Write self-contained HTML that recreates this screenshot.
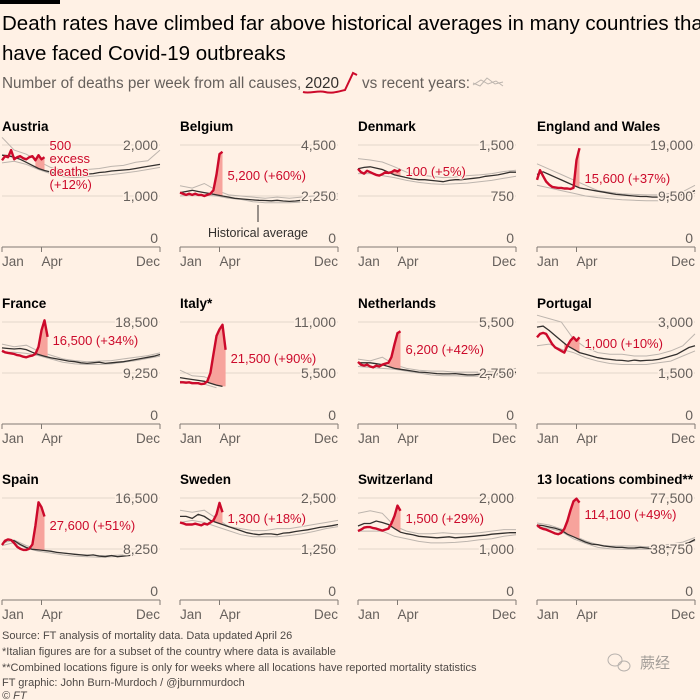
<!DOCTYPE html>
<html><head><meta charset="utf-8">
<style>
html,body{margin:0;padding:0;background:#fff1e5;}
body{width:700px;height:700px;overflow:hidden;position:relative;font-family:"Liberation Sans","Noto Sans CJK SC",sans-serif;}
svg{position:absolute;left:0;top:0;}
text{font-family:"Liberation Sans","Noto Sans CJK SC",sans-serif;}
</style></head>
<body>
<svg id="chart" width="700" height="700" viewBox="0 0 700 700">
  <rect x="0" y="0" width="60" height="4" fill="#000"/>
  <text x="2" y="30" font-size="20.5" fill="#000">Death rates have climbed far above historical averages in many countries that</text>
  <text x="2" y="60" font-size="20.5" fill="#000">have faced Covid-19 outbreaks</text>
  <text x="2" y="88" font-size="15.3" fill="#66605c">Number of deaths per week from all causes,</text>
  <text x="305" y="88" font-size="15.3" fill="#33302e">2020</text>
  <text x="362" y="88" font-size="15.3" fill="#66605c">vs recent years:</text>
  <g>
    <path d="M303,92 C310,94 318,90 325,92 C332,94 340,91 345,90 L353,73 L357,75" stroke="#cc0a2b" stroke-width="2" fill="none"/>
    <path d="M473,85 L481,80 L488,84 L496,81 L503,86 M473,83 L480,86 L487,78 L495,84 L503,82" stroke="#bdb5ae" stroke-width="1" fill="none"/>
  </g>
  <g id="panels"></g>
  <g>
    <line x1="258" y1="205" x2="258" y2="222" stroke="#33302e" stroke-width="1"/>
    <text x="258" y="237" font-size="12.5" fill="#33302e" text-anchor="middle">Historical average</text>
  </g>
  <g font-size="11" fill="#4d4845">
    <text x="2" y="639">Source: FT analysis of mortality data. Data updated April 26</text>
    <text x="2" y="655">*Italian figures are for a subset of the country where data is available</text>
    <text x="2" y="671">**Combined locations figure is only for weeks where all locations have reported mortality statistics</text>
    <text x="2" y="686">FT graphic: John Burn-Murdoch / @jburnmurdoch</text>
    <text x="2" y="699" font-style="italic">© FT</text>
  </g>
  <g opacity="0.6">
    <ellipse cx="615" cy="660" rx="7" ry="6" fill="none" stroke="#888" stroke-width="1"/>
    <ellipse cx="624" cy="666" rx="6" ry="5" fill="none" stroke="#888" stroke-width="1"/>
    <text x="640" y="668" font-size="15" fill="#666">蕨经</text>
  </g>
</svg>
<script>
const panelNames = ["Austria","Belgium","Denmark","England and Wales","France","Italy*","Netherlands","Portugal","Spain","Sweden","Switzerland","13 locations combined**"];
const axisMax = [2000,4500,1500,19000,18500,11000,5500,3000,16500,2500,2000,77500];
const tickLabels = [["2,000","1,000","0"],["4,500","2,250","0"],["1,500","750","0"],["19,000","9,500","0"],["18,500","9,250","0"],["11,000","5,500","0"],["5,500","2,750","0"],["3,000","1,500","0"],["16,500","8,250","0"],["2,500","1,250","0"],["2,000","1,000","0"],["77,500","38,750","0"]];
const excessLabels = ["500|excess|deaths|(+12%)","5,200 (+60%)","100 (+5%)","15,600 (+37%)","16,500 (+34%)","21,500 (+90%)","6,200 (+42%)","1,000 (+10%)","27,600 (+51%)","1,300 (+18%)","1,500 (+29%)","114,100 (+49%)"];
const monthLabels = ["Jan","Apr","Dec"];
const monthWeeks = [0,13,52];
const avgAustria = [1800,1790,1760,1720,1660,1600,1540,1500,1470,1440,1430,1410,1400,1420,1430,1440,1460,1470,1490,1500,1510,1520,1540,1560,1580,1600,1620];
const avgBelgium = [2400,2450,2500,2450,2400,2350,2300,2250,2200,2150,2120,2100,2080,2060,2050,2040,2060,2030,2010,2030,2060];
const avgDenmark = [1150,1170,1180,1160,1140,1100,1060,1040,1020,1000,990,990,980,970,960,980,990,990,1000,1010,1020,1040,1050,1060,1080,1100,1100];
const avgEngland = [13500,14000,13500,13000,12500,12000,11500,11000,10800,10600,10400,10200,10000,9800,9700,9600,9500,9400,9400,9300,9300,9200,9400,9600,9800,10100,10500];
const avgFrance = [13800,13700,13600,13700,13500,13000,12600,12300,12000,11800,11600,11400,11300,11100,11000,11100,11200,11000,11100,11200,11300,11500,11700,11900,12100,12300,12600];
const avgItaly = [5000,4900,4800,4700,4600,4400,4200,4050];
const avgNetherlands = [3300,3300,3300,3250,3200,3100,3000,2950,2900,2850,2800,2780,2750,2720,2700,2700,2720,2680,2650,2650,2680,2650,2650,2700,2700,2750,2800];
const avgPortugal = [2850,2880,2750,2600,2450,2300,2200,2100,2050,2000,1950,1920,1900,1880,1870,1850,1880,1860,1870,1880,1900,1950,2000,2050,2150,2250,2300];
const avgSpain = [9000,9800,9600,9000,8500,8200,8100,8000,7900,7700,7600,7500,7400,7300,7200,7300,7100,7000,7200,7000,7100,7200,7300];
const avgSweden = [2050,2050,2000,2100,2050,1950,1900,1850,1800,1750,1700,1650,1620,1600,1620,1620,1600,1640,1650,1680,1700,1720,1750,1780,1800,1820,1850];
const avgSwitzerland = [1450,1500,1500,1550,1520,1480,1400,1330,1300,1280,1250,1240,1230,1220,1230,1240,1220,1230,1240,1250,1260,1270,1290,1300,1310,1320,1320];
const avgCombined = [57000,56500,55500,54500,53000,50000,48000,46000,44000,42500,42000,41000,40500,40000,40000,39500,39500,40000,39500,39000,39500,40000,40500,41500,42500,43500,46000];
const hiAustria = [2150,1900,1820,1680,1560,1500,1480,1520,1540,1580,1600,1660,1690,1900];
const loAustria = [1650,1680,1620,1520,1440,1380,1360,1380,1400,1420,1450,1480,1520,1560];
const hiBelgium = [2700,2600,2800,2500,2300,2250,2200,2150,2200,2150,2200,2250,2300,2350];
const loBelgium = [2250,2300,2300,2250,2150,2100,2000,1950,1950,1950,1980,2000,2050,2100];
const hiDenmark = [1300,1280,1250,1180,1100,1060,1040,1020,1030,1050,1060,1080,1110,1130];
const loDenmark = [1080,1080,1050,1020,980,950,930,920,930,940,960,980,1010,1040];
const hiEngland = [15500,14500,13500,12500,11500,10500,10200,9900,9800,9700,9700,10000,10300,11500];
const loEngland = [11500,11000,10500,10000,9500,9200,9000,8800,8700,8600,8600,8800,9200,10000];
const hiFrance = [14500,14000,14300,13200,12500,11800,11500,11300,11400,11500,11800,12100,12400,12900];
const loFrance = [13000,13000,12800,12400,11800,11200,10900,10800,10800,10900,11200,11500,11900,12300];
const hiItaly = [5800,5200,5100,4500];
const loItaly = [4600,4500,4300,3900];
const hiNetherlands = [3500,3400,3600,3200,3000,2900,2850,2850,2800,2800,2800,2850,2900,3000];
const loNetherlands = [3100,3050,3000,2950,2850,2750,2650,2600,2600,2580,2580,2600,2650,2700];
const hiPortugal = [3200,3100,3000,2500,2250,2100,2050,2050,2000,2000,2050,2150,2300,2650];
const loPortugal = [2300,2350,2200,2100,1950,1850,1780,1750,1750,1750,1800,1850,2000,2150];
const hiSpain = [9200,9700,8800,8200,7900,7600,7400,7300,7200,7200,7300];
const loSpain = [8800,9300,8400,7900,7600,7300,7100,7000,6900,7000,7100];
const hiSweden = [2200,2150,2200,2000,1800,1750,1700,1700,1750,1750,1800,1850,1900,1950];
const loSweden = [1900,1950,1900,1800,1700,1600,1550,1550,1550,1580,1620,1680,1750,1800];
const hiSwitzerland = [1700,1750,1700,1450,1350,1300,1300,1320,1300,1300,1320,1350,1380,1380];
const loSwitzerland = [1350,1350,1350,1250,1200,1150,1120,1120,1130,1150,1180,1200,1250,1280];
const hiCombined = [58500,57000,54000,49000,45000,42000,41000,41000,41000,40500,41000,42500,44000,47500];
const loCombined = [55500,54500,52000,46500,43000,40000,39000,38500,38500,38500,39000,40500,42000,45000];
const y2020Austria = [1700,1780,1760,1900,1720,1760,1780,1740,1720,1760,1780,1700,1800,1720,1760];
const y2020Belgium = [2400,2350,2300,2350,2300,2350,2300,2300,2250,2300,2350,2500,3200,4100,4200];
const y2020Denmark = [1150,1100,1080,1120,1100,1080,1060,1050,1070,1100,1090,1100,1130,1110,1140];
const y2020England = [12500,14300,13200,12200,11600,11200,11100,11000,11000,10900,10900,10800,11000,16200,18400];
const y2020France = [13300,13000,12900,12800,12700,12500,12400,12200,12100,12300,12400,12700,14000,17000,18800,15800];
const y2020Italy = [4500,4500,4450,4500,4400,4400,4400,4300,4350,4600,5500,7500,9500,10200,10700,8000];
const y2020Netherlands = [3350,3200,3150,3200,3100,3050,3150,3100,3200,3250,3300,3600,4300,4900,5000];
const y2020Portugal = [2550,2650,2680,2650,2500,2350,2250,2200,2150,2100,2300,2450,2550,2450,2550];
const y2020Spain = [8900,9600,9800,9700,9200,8600,8300,8100,8100,8300,9000,12000,15800,15000,13500];
const y2020Sweden = [1900,1880,1850,1850,1850,1870,1850,1830,1870,1850,1900,1950,2100,2380,2150];
const y2020Switzerland = [1350,1380,1420,1430,1430,1410,1400,1380,1360,1380,1400,1500,1650,1850,1750];
const y2020Combined = [57000,55000,54000,53500,52500,51500,50500,50000,51000,54000,60000,68000,75000,77000,74000];
const excessFromWeek = [11,11,11,12,11,9,10,9,10,11,10,9];

const avgData = [avgAustria,avgBelgium,avgDenmark,avgEngland,avgFrance,avgItaly,avgNetherlands,avgPortugal,avgSpain,avgSweden,avgSwitzerland,avgCombined];
const hiData = [hiAustria,hiBelgium,hiDenmark,hiEngland,hiFrance,hiItaly,hiNetherlands,hiPortugal,hiSpain,hiSweden,hiSwitzerland,hiCombined];
const loData = [loAustria,loBelgium,loDenmark,loEngland,loFrance,loItaly,loNetherlands,loPortugal,loSpain,loSweden,loSwitzerland,loCombined];
const data2020 = [y2020Austria,y2020Belgium,y2020Denmark,y2020England,y2020France,y2020Italy,y2020Netherlands,y2020Portugal,y2020Spain,y2020Sweden,y2020Switzerland,y2020Combined];

const NS = "http://www.w3.org/2000/svg";
const colX = [2,180,358,537];
const rowZero = [247,424,600];
const PW = 158, PH = 102;
const annY = [0,180,176,183,345,363,354,348,530,523,523,519];
function mk(tag, attrs, parent){ const e=document.createElementNS(NS,tag); for(const k in attrs) e.setAttribute(k,attrs[k]); parent.appendChild(e); return e; }
const root = document.getElementById("panels");

panelNames.forEach((name,i)=>{
  const x0 = colX[i%4], zy = rowZero[Math.floor(i/4)];
  const max = axisMax[i];
  const xs = w => x0 + w/52*PW;
  const ys = v => zy - v/max*PH;
  const g = mk("g",{},root);
  
  
  const t = mk("text",{x:x0,y:zy-116,"font-size":13.5,"font-weight":"bold",fill:"#000"},g);
  t.textContent = name;
  
  
  [max, max/2].forEach(v=>{
    const l = mk("line",{x1:x0,x2:x0+PW,y1:ys(v),y2:ys(v),stroke:"#e3d6cb","stroke-width":1},g);
    
    
  });
  const ax = mk("path",{d:`M${x0},${zy} H${x0+PW} M${x0},${zy} v5 M${xs(13)},${zy} v5 M${x0+PW},${zy} v5`,stroke:"#807973","stroke-width":1,fill:"none"},g);
  
  
  monthLabels.forEach((m,k)=>{
    const anchor = k===2 ? "end" : "start";
    const tx = mk("text",{x:xs(monthWeeks[k]),y:zy+19,"font-size":13.5,fill:"#66605c","text-anchor":anchor},g);
    tx.textContent = m;
    
    
  });
  [hiData[i], loData[i]].forEach(arr=>{
    const p = mk("path",{d:arr.map((v,k)=>(k?"L":"M")+xs(k*4).toFixed(1)+","+ys(v).toFixed(1)).join(""),stroke:"#bdb5ae","stroke-width":1,fill:"none"},g);
    
    
  });
  const avg = avgData[i];
  const avgAt = w => { const f=Math.min(w/2,avg.length-1), a=Math.floor(f), b=Math.min(a+1,avg.length-1); return avg[a]+(avg[b]-avg[a])*(f-a); };
  const d20 = data2020[i];
  const s = excessFromWeek[i];
  let sp = "";
  for(let w=s; w<d20.length; w++) sp += (w===s?"M":"L")+xs(w).toFixed(1)+","+ys(d20[w]).toFixed(1);
  for(let w=d20.length-1; w>=s; w--) sp += "L"+xs(w).toFixed(1)+","+ys(avgAt(w)).toFixed(1);
  const sh = mk("path",{d:sp+"Z",fill:"#f7a39c",stroke:"none"},g);
  
  
  const ap = mk("path",{d:avg.map((v,k)=>(k?"L":"M")+xs(k*2).toFixed(1)+","+ys(v).toFixed(1)).join(""),stroke:"#33302e","stroke-width":1.3,fill:"none"},g);
  
  
  const rp = mk("path",{d:d20.map((v,k)=>(k?"L":"M")+xs(k).toFixed(1)+","+ys(v).toFixed(1)).join(""),stroke:"#cc0a2b","stroke-width":2.4,fill:"none","stroke-linejoin":"round"},g);
  
  
  [max, max/2, 0].forEach((v,k)=>{
    const y = ys(v) + (k===2 ? -4 : 5);
    const tx = mk("text",{x:x0+PW-2,y:y,"font-size":14,fill:"#66605c","text-anchor":"end",stroke:"#fff1e5","stroke-width":3,"paint-order":"stroke"},g);
    tx.textContent = tickLabels[i][k];
    
    
  });
  const parts = excessLabels[i].split("|");
  const lx = xs(d20.length-1) + 5;
  parts.forEach((p,k)=>{
    const y = parts.length>1 ? zy-97+k*13 : annY[i];
    const tx = mk("text",{x:lx,y:y,"font-size":13,fill:"#cc0a2b",stroke:"#fff1e5","stroke-width":2,"paint-order":"stroke"},g);
    tx.textContent = p;
    
    
  });
});
</script>
</body></html>
